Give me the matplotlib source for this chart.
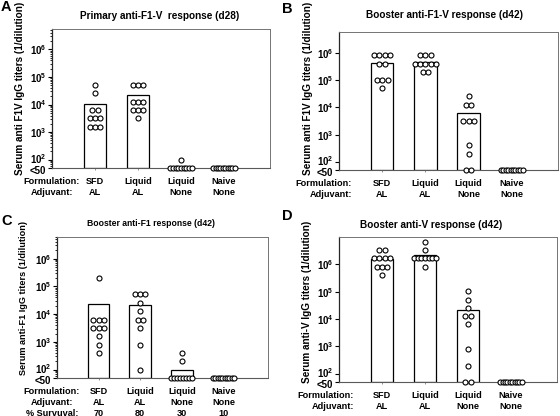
import numpy as np
import matplotlib
matplotlib.use("Agg")
import matplotlib.pyplot as plt
import matplotlib.transforms as mtransforms
from matplotlib.ticker import FixedLocator, LogLocator, NullFormatter

plt.rcParams['font.family'] = ['Liberation Sans', 'DejaVu Sans']
plt.rcParams['mathtext.fontset'] = 'custom'
plt.rcParams['mathtext.rm'] = 'Liberation Sans:bold'
plt.rcParams['mathtext.bf'] = 'Liberation Sans:bold'
plt.rcParams['mathtext.it'] = 'Liberation Sans:bold'

# ---- data (titers, 2-fold dilutions, "<50" drawn at 50) ----
formulation = ["SFD", "Liquid", "Liquid", "Naive"]
adjuvant = ["AL", "AL", "None", "None"]
survival = ["70", "80", "30", "10"]

a_titers = [
    [51200, 25600, 6400, 6400, 3200, 3200, 3200, 1600, 1600, 1600],
    [51200, 51200, 51200, 12800, 12800, 12800, 6400, 6400, 6400, 3200],
    [100, 50, 50, 50, 50, 50, 50, 50, 50, 50],
    [50, 50, 50, 50, 50, 50, 50, 50, 50, 50],
]
a_means = [10400, 21400, 50, 50]

b_titers = [
    [819200, 819200, 819200, 819200, 409600, 409600, 102400, 102400, 102400, 51200],
    [819200, 819200, 819200, 409600, 409600, 409600, 409600, 409600, 204800, 204800],
    [25600, 12800, 12800, 3200, 3200, 3200, 400, 200, 50, 50],
    [50, 50, 50, 50, 50, 50, 50, 50, 50, 50],
]
b_means = [445000, 490000, 6150, 50]

c_titers = [
    [204800, 6400, 6400, 6400, 3200, 3200, 3200, 1600, 800, 400],
    [51200, 51200, 51200, 25600, 12800, 6400, 6400, 3200, 800, 100],
    [400, 200, 50, 50, 50, 50, 50, 50, 50, 50],
    [50, 50, 50, 50, 50, 50, 50, 50, 50, 50],
]
c_means = [23600, 20900, 100, 50]

d_titers = [
    [3276800, 3276800, 1638400, 1638400, 1638400, 1638400, 819200, 819200, 819200, 409600],
    [6553600, 3276800, 1638400, 1638400, 1638400, 1638400, 1638400, 1638400, 1638400, 819200],
    [102400, 51200, 25600, 12800, 12800, 6400, 800, 200, 50, 50],
    [50, 50, 50, 50, 50, 50, 50, 50, 50, 50],
]
d_means = [1600000, 2200000, 21200, 50]

W, H = 560, 416


def px(x, y):
    return x / W, 1 - y / H


def box(l, t, r, b):
    return [l / W, 1 - b / H, (r - l) / W, (b - t) / H]


def draw_panel(fig, rect, titers, means, ytop, ylabel, ylab_xy, ylab_size,
               title, title_xy, title_size, letter, letter_xy,
               col_dx, col_ha, show_survival=False):
    ax = fig.add_axes(rect)
    floor = 50
    x = np.arange(len(titers))
    ax.bar(x, np.array(means) - floor, bottom=floor, width=0.52,
           color="white", edgecolor="black", linewidth=0.9, zorder=2)

    # spread equal values horizontally like a column scatter
    for i, vals in enumerate(titers):
        levels = {}
        for v in vals:
            levels[v] = levels.get(v, 0) + 1
        for v, n in levels.items():
            step = 0.125 if n < 2 else min(0.125, 0.5 / (n - 1))
            offs = (np.arange(n) - (n - 1) / 2) * step
            ax.plot(x[i] + offs, [v] * n, "o", ms=3.6, mfc="white",
                    mec="black", mew=0.8, zorder=3, clip_on=False)

    ax.set_yscale("log")
    ax.set_ylim(floor, ytop)
    ax.set_xlim(-1.0, 4.07)
    ax.yaxis.set_major_locator(FixedLocator([50, 1e2, 1e3, 1e4, 1e5, 1e6]))
    ax.set_yticklabels(["<50", r"$10^{2}$", r"$10^{3}$", r"$10^{4}$",
                        r"$10^{5}$", r"$10^{6}$"], fontsize=7, fontweight="bold")
    ax.yaxis.set_minor_locator(LogLocator(base=10, subs=np.arange(2, 10)))
    ax.yaxis.set_minor_formatter(NullFormatter())
    ax.tick_params(axis="y", which="major", length=3, width=0.8, pad=1)
    ax.tick_params(axis="y", which="minor", length=1.8, width=0.6)
    labels = ax.get_yticklabels()
    down = mtransforms.ScaledTranslation(0, -2.5 / 100, fig.dpi_scale_trans)
    up = mtransforms.ScaledTranslation(0, 1.5 / 100, fig.dpi_scale_trans)
    labels[0].set_transform(labels[0].get_transform() + down)
    labels[1].set_transform(labels[1].get_transform() + up)
    ax.set_xticks(x)
    ax.set_xticklabels([])
    ax.tick_params(axis="x", length=1.5, width=0.6, color="0.5")

    for s in ["top", "right"]:
        ax.spines[s].set_color("0.45")
        ax.spines[s].set_linewidth(0.7)
    ax.spines["bottom"].set_color("0.35")
    ax.spines["bottom"].set_linewidth(0.8)
    ax.spines["left"].set_color("0.15")
    ax.spines["left"].set_linewidth(0.9)

    rows = [("Formulation:", formulation), ("Adjuvant:", adjuvant)]
    if show_survival:
        rows.append(("% Survuval:", survival))
    for r, (name, labels) in enumerate(rows):
        dy = -(14 + r * 10.5)
        ax.annotate(name, xy=(0, 0), xycoords="axes fraction",
                    xytext=(col_dx, dy), textcoords="offset pixels",
                    ha=col_ha, va="center", fontsize=6.6, fontweight="bold")
        for i, lab in enumerate(labels):
            ax.annotate(lab, xy=(x[i], 0), xycoords=("data", "axes fraction"),
                        xytext=(0, dy), textcoords="offset pixels",
                        ha="center", va="center", fontsize=6.6, fontweight="bold")

    fig.text(*px(*ylab_xy), ylabel, rotation=90, ha="center", va="center",
             fontsize=ylab_size, fontweight="bold")
    fig.text(*px(*title_xy), title, ha="center", va="center",
             fontsize=title_size, fontweight="bold")
    fig.text(*px(*letter_xy), letter, ha="left", va="center",
             fontsize=10.5, fontweight="bold")
    return ax


fig = plt.figure(figsize=(5.6, 4.16), dpi=100)

draw_panel(fig, box(52, 29, 270, 168), a_titers, a_means, 5.5e6,
           "Serum anti F1V IgG titers (1/dilution)", (20, 88), 7.2,
           "Primary anti-F1-V  response (d28)", (160, 16), 7.2,
           "A", (1, 7), 0, "center")
draw_panel(fig, box(339, 32, 558, 170), b_titers, b_means, 6e6,
           "Serum anti F1V IgG titers (1/dilution)", (308, 88), 7.2,
           "Booster anti-F1-V response (d42)", (444, 15), 7.2,
           "B", (282, 9), 13, "right")
draw_panel(fig, box(57, 237, 268, 378), c_titers, c_means, 6e6,
           "Serum anti-F1 IgG titers (1/dilution)", (24, 298), 6.6,
           "Booster anti-F1 response (d42)", (151, 223), 6.2,
           "C", (1, 221), -5, "center", show_survival=True)
draw_panel(fig, box(339, 237, 557, 382), d_titers, d_means, 1e7,
           "Serum anti-V IgG titers (1/dilution)", (307, 302), 7.2,
           "Booster anti-V response (d42)", (431, 225), 7.2,
           "D", (282, 216), 15, "right")

fig.savefig("out.png", dpi=100)
